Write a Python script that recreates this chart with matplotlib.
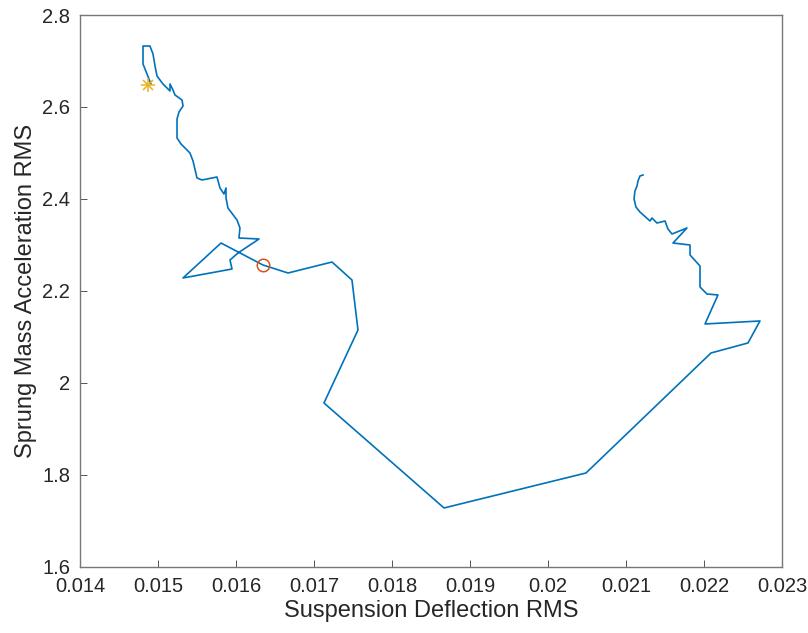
import matplotlib
matplotlib.use("Agg")
import matplotlib.pyplot as plt
from matplotlib import font_manager

# Trajectory of (suspension deflection RMS, sprung mass acceleration RMS)
defl_rms = [0.014910, 0.014808, 0.014808, 0.014897, 0.014936, 0.014962, 0.014987,
            0.015064, 0.015154, 0.015154, 0.015192, 0.015218, 0.015308, 0.015321,
            0.015269, 0.015244, 0.015244, 0.015295, 0.015410, 0.015449, 0.015500,
            0.015564, 0.015756, 0.015795, 0.015846, 0.015872, 0.015872, 0.015897,
            0.016013, 0.016051, 0.016038, 0.016295, 0.016026, 0.015923, 0.015949,
            0.015321, 0.015808, 0.016346, 0.016667, 0.017231, 0.017487, 0.017564,
            0.017128, 0.018667, 0.020487, 0.022090, 0.022564, 0.022718, 0.022013,
            0.022179, 0.022038, 0.021949, 0.021949, 0.021821, 0.021821, 0.021603,
            0.021782, 0.021590, 0.021538, 0.021500, 0.021397, 0.021333, 0.021308,
            0.021179, 0.021128, 0.021103, 0.021115, 0.021141, 0.021154, 0.021179,
            0.021218]
accel_rms = [2.6500, 2.6935, 2.7326, 2.7326, 2.7152, 2.6891, 2.6674,
             2.6500, 2.6348, 2.6500, 2.6370, 2.6261, 2.6152, 2.6022,
             2.5891, 2.5739, 2.5326, 2.5196, 2.5000, 2.4826, 2.4457,
             2.4413, 2.4478, 2.4239, 2.4109, 2.4239, 2.4022, 2.3804,
             2.3543, 2.3370, 2.3152, 2.3130, 2.2826, 2.2674, 2.2478,
             2.2283, 2.3043, 2.2565, 2.2391, 2.2630, 2.2239, 2.1152,
             1.9565, 1.7283, 1.8043, 2.0652, 2.0870, 2.1348, 2.1283,
             2.1913, 2.1935, 2.2087, 2.2543, 2.2783, 2.3000, 2.3043,
             2.3370, 2.3239, 2.3348, 2.3522, 2.3478, 2.3587, 2.3522,
             2.3717, 2.3826, 2.4000, 2.4174, 2.4283, 2.4391, 2.4500,
             2.4522]

star_point = (0.014872, 2.6478)
circle_point = (0.016346, 2.2565)

x_ticks = [0.014, 0.015, 0.016, 0.017, 0.018, 0.019, 0.020, 0.021, 0.022, 0.023]
x_tick_labels = ["0.014", "0.015", "0.016", "0.017", "0.018", "0.019", "0.02",
                 "0.021", "0.022", "0.023"]
y_ticks = [1.6, 1.8, 2.0, 2.2, 2.4, 2.6, 2.8]
y_tick_labels = ["1.6", "1.8", "2", "2.2", "2.4", "2.6", "2.8"]

installed = {f.name for f in font_manager.fontManager.ttflist}
narrow = "Liberation Sans Narrow" in installed
if narrow:
    plt.rcParams["font.family"] = ["Liberation Sans Narrow", "DejaVu Sans"]
    tick_size, label_size = 17.5, 20.5
else:
    plt.rcParams["font.family"] = ["Liberation Sans", "DejaVu Sans"]
    tick_size, label_size = 14.5, 17
text_color = "#262626"

fig = plt.figure(figsize=(8.08, 6.33), dpi=100)
ax = fig.add_axes([0.099, 0.1043, 0.8688, 0.872])

ax.plot(defl_rms, accel_rms, color="#0072BD", lw=1.2, zorder=2)
ax.plot(*circle_point, marker="o", ms=9, mfc="none", mec="#D95319", mew=1.1, zorder=3)
ax.plot(*star_point, marker="+", ms=10, mec="#EDB120", mew=1.1, zorder=3)
ax.plot(*star_point, marker="x", ms=7, mec="#EDB120", mew=1.1, zorder=3)

ax.set_xlim(0.014, 0.023)
ax.set_ylim(1.6, 2.8)
ax.set_xticks(x_ticks)
ax.set_xticklabels(x_tick_labels)
ax.set_yticks(y_ticks)
ax.set_yticklabels(y_tick_labels)

ax.tick_params(direction="in", length=5, width=0.7, colors="#555555",
               labelcolor=text_color, labelsize=tick_size, top=False, right=False)
ax.tick_params(axis="x", pad=7)
ax.tick_params(axis="y", pad=7)
for s in ax.spines.values():
    s.set_color("#777777")
    s.set_linewidth(1.0)

ax.set_xlabel("Suspension Deflection RMS", fontsize=label_size, color=text_color, labelpad=3)
ax.set_ylabel("Sprung Mass Acceleration RMS", fontsize=label_size, color=text_color, labelpad=4)

fig.savefig("out.png", dpi=100)
